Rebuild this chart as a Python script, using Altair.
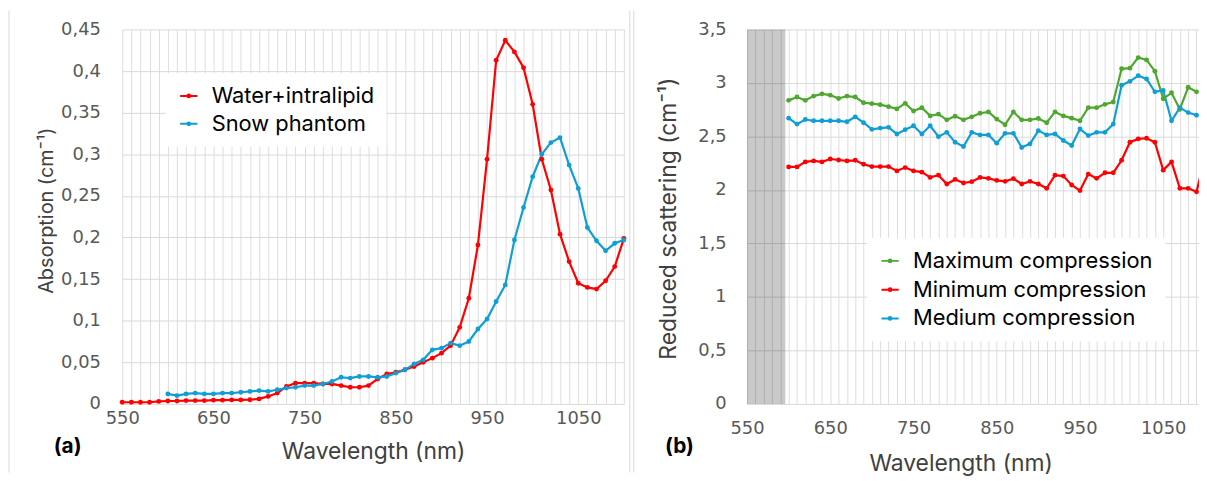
import altair as alt
import pandas as pd

# ---------------- data ----------------
# Panel (a): absorption
wl_water = list(range(550, 1101, 10))
water_intralipid = [
    0.002, 0.002, 0.002, 0.002, 0.003,
    0.0035, 0.0035, 0.004, 0.004, 0.004,
    0.0045, 0.0045, 0.0048, 0.0048, 0.005,
    0.006, 0.009, 0.013, 0.021, 0.025,
    0.025, 0.025, 0.024, 0.024, 0.022,
    0.020, 0.020, 0.022, 0.030, 0.036,
    0.038, 0.041, 0.045, 0.050, 0.055,
    0.061, 0.070, 0.092, 0.127, 0.191,
    0.294, 0.413, 0.437, 0.423, 0.404,
    0.360, 0.294, 0.257, 0.204, 0.171,
    0.145, 0.140, 0.138, 0.148, 0.165,
    0.199,
]
wl_snow = list(range(600, 1101, 10))
snow_phantom = [
    0.012, 0.010, 0.012, 0.013, 0.012,
    0.012, 0.013, 0.013, 0.014, 0.015,
    0.016, 0.015, 0.017, 0.019, 0.020,
    0.022, 0.022, 0.024, 0.027, 0.032,
    0.031, 0.033, 0.033, 0.032, 0.033,
    0.037, 0.041, 0.048, 0.053, 0.065,
    0.067, 0.073, 0.070, 0.075, 0.090,
    0.102, 0.123, 0.143, 0.197, 0.236,
    0.273, 0.300, 0.314, 0.320, 0.287,
    0.259, 0.212, 0.196, 0.184, 0.193,
    0.197,
]

# Panel (b): reduced scattering
wl_comp = list(range(600, 1091, 10))
max_compression = [
    2.837, 2.868, 2.837, 2.877, 2.898,
    2.886, 2.855, 2.877, 2.868, 2.815,
    2.806, 2.797, 2.778, 2.757, 2.809,
    2.738, 2.769, 2.692, 2.708, 2.655,
    2.689, 2.655, 2.683, 2.717, 2.729,
    2.662, 2.609, 2.729, 2.655, 2.655,
    2.668, 2.628, 2.729, 2.692, 2.671,
    2.646, 2.769, 2.769, 2.800, 2.822,
    3.132, 3.138, 3.237, 3.215, 3.110,
    2.852, 2.908, 2.754, 2.960, 2.917,
]
medium_compression = [
    2.671, 2.615, 2.658, 2.646, 2.646,
    2.646, 2.646, 2.637, 2.683, 2.628,
    2.566, 2.578, 2.585, 2.523, 2.563,
    2.600, 2.523, 2.600, 2.498, 2.538,
    2.446, 2.406, 2.538, 2.514, 2.514,
    2.437, 2.529, 2.529, 2.397, 2.431,
    2.554, 2.514, 2.523, 2.462, 2.415,
    2.569, 2.508, 2.538, 2.538, 2.615,
    2.978, 3.015, 3.068, 3.037, 2.917,
    2.929, 2.646, 2.769, 2.723, 2.698,
]
wl_min = list(range(600, 1101, 10))
min_compression = [
    2.215, 2.215, 2.262, 2.271, 2.262,
    2.289, 2.280, 2.271, 2.277, 2.240,
    2.218, 2.218, 2.218, 2.178, 2.209,
    2.178, 2.166, 2.117, 2.138, 2.055,
    2.098, 2.065, 2.077, 2.117, 2.108,
    2.089, 2.080, 2.105, 2.055, 2.080,
    2.055, 2.015, 2.138, 2.129, 2.046,
    1.994, 2.148, 2.108, 2.160, 2.160,
    2.277, 2.446, 2.477, 2.483, 2.446,
    2.185, 2.262, 2.015, 2.015, 1.982,
    2.300,
]

series_a = ["Water+intralipid", "Snow phantom"]
colors_a = ["#FF0000", "#0F9ED5"]
series_b = ["Maximum compression", "Minimum compression", "Medium compression"]
colors_b = ["#4EA72E", "#FF0000", "#0F9ED5"]

x_ticks_a = list(range(550, 1101, 10))
x_ticks_b = list(range(550, 1091, 10))
y_ticks_a = [0, 0.05, 0.1, 0.15, 0.2, 0.25, 0.3, 0.35, 0.4, 0.45]
y_ticks_b = [0, 0.5, 1, 1.5, 2, 2.5, 3, 3.5]
shaded_band = [550, 596]

# ---------------- tables ----------------
df_a = pd.concat([
    pd.DataFrame({"wl": wl_water, "val": water_intralipid, "series": series_a[0]}),
    pd.DataFrame({"wl": wl_snow, "val": snow_phantom, "series": series_a[1]}),
])
df_b = pd.concat([
    pd.DataFrame({"wl": wl_comp, "val": max_compression, "series": series_b[0]}),
    pd.DataFrame({"wl": wl_min, "val": min_compression, "series": series_b[1]}),
    pd.DataFrame({"wl": wl_comp, "val": medium_compression, "series": series_b[2]}),
])
df_band = pd.DataFrame({"wl": [shaded_band[0]], "wl_end": [shaded_band[1]]})
one_row = pd.DataFrame({"k": [0]})

# ---------------- style ----------------
FONT = "Inter"
TICK_FONT = "DejaVu Sans"
TICK_COLOR = "#595959"
TITLE_COLOR = "#404040"
GRID_H = "#d9d9d9"
GRID_V = "#dedede"

W_A, W_B, H = 505, 455, 377
SYMBOL = "M-1,0L1,0M0.16,0A0.16,0.16,0,1,1,-0.16,0A0.16,0.16,0,1,1,0.16,0"

x_label_expr = "(datum.value % 100) == 50 ? datum.label : ''"
y_label_expr = "replace(format(datum.value, '.2~f'), '.', ',')"


def x_axis(values, label_pad, title_x, title_y):
    return alt.Axis(
        values=values, labelExpr=x_label_expr, labelOverlap=False, labelFlush=False,
        labelBound=False, format="d",
        title="Wavelength (nm)", titleX=title_x, titleY=title_y,
        titleAlign="center", titleBaseline="middle", titleAngle=0,
        grid=True, gridColor=GRID_V, ticks=False, tickSize=0, domain=False,
        labelPadding=label_pad, labelFont=TICK_FONT, labelFontSize=18, labelColor=TICK_COLOR,
        titleFont=FONT, titleFontSize=23, titleFontWeight="normal", titleColor=TITLE_COLOR,
    )


def y_axis(values, title, label_pad, title_x, title_y, title_size):
    return alt.Axis(
        values=values, labelExpr=y_label_expr, labelOverlap=False,
        title=title, titleX=title_x, titleY=title_y, titleAngle=-90,
        titleAlign="center", titleBaseline="middle",
        grid=True, gridColor=GRID_H, ticks=False, tickSize=0, domain=False,
        labelPadding=label_pad, labelFont=TICK_FONT, labelFontSize=18, labelColor=TICK_COLOR,
        titleFont=FONT, titleFontSize=title_size, titleFontWeight="normal", titleColor=TITLE_COLOR,
    )


def legend(x, y, row_pad):
    return alt.Legend(
        title=None, orient="none", legendX=x, legendY=y,
        fillColor="white", padding=12, rowPadding=row_pad,
        symbolType=SYMBOL, symbolSize=300, symbolStrokeWidth=2,
        labelFont=FONT, labelFontSize=22, labelColor="#000000", labelOffset=12,
        labelLimit=400,
    )


# ---------------- panel (a) ----------------
sx_a = alt.Scale(domain=[550, 1100], nice=False, zero=False)
sy_a = alt.Scale(domain=[0, 0.45], nice=False, zero=False)
ax_a = x_axis(x_ticks_a, 6, W_A / 2, 48)
ay_a = y_axis(y_ticks_a, "Absorption (cm⁻¹)", 22, -76, 182, 20)
xa = alt.X("wl:Q", scale=sx_a, axis=ax_a)
ya = alt.Y("val:Q", scale=sy_a, axis=ay_a)
ca = alt.Color("series:N", scale=alt.Scale(domain=series_a, range=colors_a),
               legend=legend(44, 44, 6))

lines_a = alt.Chart(df_a).mark_line(strokeWidth=2.2).encode(x=xa, y=ya, color=ca, order="wl:Q")
pts_a = alt.Chart(df_a).mark_circle(size=24, opacity=1).encode(x=xa, y=ya, color=ca)

frame = alt.Chart(pd.DataFrame({"px": [-114, 511, 515]})).mark_rule(
    color="#d9d9d9", strokeWidth=1
).encode(x=alt.X("px:Q", scale=None, axis=None), y=alt.value(-19), y2=alt.value(446))

tag_a = alt.Chart(one_row).mark_text(
    text="(a)", font=FONT, fontSize=21, fontWeight="bold", color="#000000",
    align="center", baseline="middle"
).encode(x=alt.value(-55), y=alt.value(420))

panel_a = alt.layer(lines_a, pts_a, frame, tag_a).properties(width=W_A, height=H)

# ---------------- panel (b) ----------------
sx_b = alt.Scale(domain=[550, 1093], nice=False, zero=False)
sy_b = alt.Scale(domain=[0, 3.5], nice=False, zero=False)
ax_b = x_axis(x_ticks_b, 16, 215, 60)
ay_b = y_axis(y_ticks_b, "Reduced scattering (cm⁻¹)", 21, -79, 190, 23)
xb = alt.X("wl:Q", scale=sx_b, axis=ax_b)
yb = alt.Y("val:Q", scale=sy_b, axis=ay_b)
cb = alt.Color("series:N", scale=alt.Scale(domain=series_b, range=colors_b),
               legend=legend(121, 210, 7))

band = alt.Chart(df_band).mark_rect(color="#000000", opacity=0.21).encode(
    x=xb, x2="wl_end:Q", y=alt.value(0), y2=alt.value(H)
)
lines_b = alt.Chart(df_b).mark_line(strokeWidth=2.2, clip=True).encode(x=xb, y=yb, color=cb, order="wl:Q")
pts_b = alt.Chart(df_b).mark_circle(size=24, opacity=1, clip=True).encode(x=xb, y=yb, color=cb)

spacer = alt.Chart(one_row).mark_rule(strokeOpacity=0).encode(
    x=alt.value(0), y=alt.value(-19), y2=alt.value(446)
)
tag_b = alt.Chart(one_row).mark_text(
    text="(b)", font=FONT, fontSize=21, fontWeight="bold", color="#000000",
    align="center", baseline="middle"
).encode(x=alt.value(-68), y=alt.value(420))

panel_b = alt.layer(band, lines_b, pts_b, spacer, tag_b).properties(width=W_B, height=H)

chart = alt.hconcat(panel_a, panel_b, spacing=124, bounds="flush").resolve_scale(
    color="independent", x="independent", y="independent"
).properties(
    padding={"left": 0, "top": 0, "right": 0, "bottom": 0},
    background="white",
).configure_view(stroke=None)

chart.save("out.html", embed_options={"renderer": "svg", "actions": False})
